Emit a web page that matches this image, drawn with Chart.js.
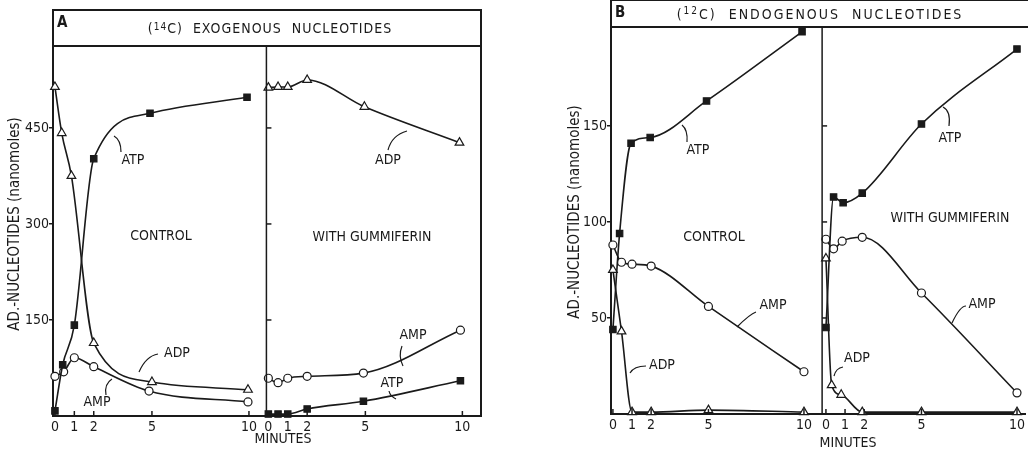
<!DOCTYPE html>
<html lang="en">
<head>
<meta charset="UTF-8">
<title>AD-nucleotides, control vs gummiferin</title>
<script src="https://cdn.jsdelivr.net/npm/chart.js"></script>
<style>
  body { margin: 0; background: #fff; }
  .wrap { position: relative; width: 1028px; height: 455px; overflow: hidden; background: #fff; }
  canvas { position: absolute; top: 0; }
  #panelA { left: 0; }
  #panelB { left: 514px; }
</style>
</head>
<body>
<div class="wrap">
  <canvas id="panelA" width="514" height="455"></canvas>
  <canvas id="panelB" width="514" height="455"></canvas>
</div>
<script>
const INK = '#1a1a1a';
const FONT = '"DejaVu Sans Condensed", "DejaVu Sans", sans-serif';

// axis ticks
const minuteTicks = [0, 1, 2, 5, 10];
const yTicksA = [150, 300, 450];
const yTicksB = [50, 100, 150];
// the gummiferin half sits on the same x axis, shifted by this many "minutes"
const gumOffsetA = 11;
const gumOffsetB = 11.15;

// Panel A: (14C) exogenous nucleotides, control
const aCtrlAtpMin = [0, 0.4, 1.0, 2.0, 4.9, 9.9];
const aCtrlAtp    = [8, 80, 142, 402, 473, 498];
const aCtrlAdpMin = [0, 0.35, 0.85, 2.0, 5.0, 9.95];
const aCtrlAdp    = [514, 442, 375, 114, 53, 41];
const aCtrlAmpMin = [0, 0.45, 1.0, 2.0, 4.85, 9.95];
const aCtrlAmp    = [62, 69, 91, 77, 39, 22];
// Panel A, with gummiferin
const aGumAdpMin = [0, 0.5, 1, 2, 4.95, 9.85];
const aGumAdp    = [513, 514, 514, 525, 483, 427];
const aGumAmpMin = [0, 0.5, 1, 2, 4.9, 9.9];
const aGumAmp    = [59, 52, 59, 62, 67, 134];
const aGumAtpMin = [0, 0.5, 1, 2, 4.9, 9.9];
const aGumAtp    = [3, 3, 3, 11, 23, 55];

// Panel B: (12C) endogenous nucleotides, control
const bCtrlAtpMin = [0, 0.35, 0.95, 1.95, 4.9, 9.9];
const bCtrlAtp    = [44, 94, 141, 144, 163, 199];
const bCtrlAdpMin = [0, 0.45, 1, 2, 5, 10];
const bCtrlAdp    = [75, 43, 1, 1, 2, 1];
const bCtrlAmpMin = [0, 0.45, 1, 2, 5, 10];
const bCtrlAmp    = [88, 79, 78, 77, 56, 22];
// Panel B, with gummiferin
const bGumAtpMin = [0, 0.4, 0.9, 1.9, 5, 10];
const bGumAtp    = [45, 113, 110, 115, 151, 190];
const bGumAmpMin = [0, 0.4, 0.85, 1.9, 5, 10];
const bGumAmp    = [91, 86, 90, 92, 63, 11];
const bGumAdpMin = [0, 0.3, 0.8, 1.9, 5, 10];
const bGumAdp    = [81, 15, 10, 1, 1, 1];

const markers = {
  ATP: { pointStyle: 'rect', pointRadius: 4.5, pointBackgroundColor: INK },
  ADP: { pointStyle: 'triangle', pointRadius: 5, pointBackgroundColor: '#fff' },
  AMP: { pointStyle: 'circle', pointRadius: 4, pointBackgroundColor: '#fff' }
};

function series(kind, mins, vals, off) {
  return Object.assign({
    label: kind,
    data: mins.map((m, i) => ({ x: m + off, y: vals[i] })),
    showLine: true,
    borderColor: INK,
    borderWidth: 1.6,
    pointBorderColor: INK,
    pointBorderWidth: 1.2,
    cubicInterpolationMode: 'monotone',
    clip: false
  }, markers[kind]);
}

// header box, divider, inner ticks, text labels and the little leader strokes
function decor(o) {
  return {
    id: 'decor',
    afterDraw(chart) {
      const ctx = chart.ctx, ca = chart.chartArea;
      const xs = chart.scales.x, ys = chart.scales.y;
      ctx.save();
      ctx.strokeStyle = INK;
      ctx.fillStyle = INK;
      ctx.lineWidth = 2;
      const right = o.closed ? ca.right : ca.right + 4;
      ctx.strokeRect(ca.left, o.headerTop, right - ca.left, ca.top - o.headerTop);
      if (o.closed) {
        ctx.beginPath(); ctx.moveTo(ca.right, ca.top); ctx.lineTo(ca.right, ca.bottom); ctx.stroke();
      }
      // divider between control and gummiferin
      const dx = xs.getPixelForValue(o.divider);
      ctx.lineWidth = 1.5;
      ctx.beginPath(); ctx.moveTo(dx, ca.top); ctx.lineTo(dx, ca.bottom); ctx.stroke();
      o.yTicks.forEach(v => {
        const y = ys.getPixelForValue(v);
        ctx.beginPath(); ctx.moveTo(dx, y); ctx.lineTo(dx + 5, y); ctx.stroke();
      });
      [0, o.offset].forEach(off => minuteTicks.forEach(m => {
        const x = xs.getPixelForValue(m + off);
        ctx.beginPath(); ctx.moveTo(x, ca.bottom); ctx.lineTo(x, ca.bottom - 5); ctx.stroke();
      }));

      // panel letter and title
      ctx.textBaseline = 'middle';
      ctx.textAlign = 'left';
      ctx.font = `bold 15px ${FONT}`;
      ctx.fillText(o.letter, ca.left + 4, o.letterY);
      ctx.letterSpacing = o.spacing;
      const big = `14px ${FONT}`, small = `10px ${FONT}`;
      ctx.font = big; const w1 = ctx.measureText('(').width, w3 = ctx.measureText(o.title[2]).width;
      ctx.font = small; const w2 = ctx.measureText(o.title[1]).width;
      let x = o.titleX - (w1 + w2 + w3) / 2;
      ctx.font = big; ctx.fillText('(', x, o.titleY); x += w1;
      ctx.font = small; ctx.fillText(o.title[1], x, o.titleY - o.supRaise); x += w2;
      ctx.font = big; ctx.fillText(o.title[2], x, o.titleY);
      ctx.letterSpacing = '0px';

      // y axis title
      ctx.save();
      ctx.translate(o.yTitle[0], o.yTitle[1]);
      ctx.rotate(-Math.PI / 2);
      ctx.textAlign = 'center';
      ctx.font = `15px ${FONT}`;
      ctx.fillText('AD.-NUCLEOTIDES (nanomoles)', 0, 0);
      ctx.restore();

      ctx.textAlign = 'center';
      ctx.font = `14px ${FONT}`;
      o.labels.forEach(([t, lx, ly]) => ctx.fillText(t, lx, ly));
      ctx.lineWidth = 1.2;
      o.leaders.forEach(([x1, y1, cx, cy, x2, y2]) => {
        ctx.beginPath(); ctx.moveTo(x1, y1); ctx.quadraticCurveTo(cx, cy, x2, y2); ctx.stroke();
      });
      ctx.restore();
    }
  };
}

function makeChart(id, datasets, p) {
  return new Chart(document.getElementById(id), {
    type: 'scatter',
    data: { datasets },
    options: {
      responsive: false,
      animation: false,
      layout: { padding: { left: 0, top: p.top, right: p.right, bottom: 0 }, autoPadding: false },
      plugins: { legend: { display: false }, tooltip: { enabled: false } },
      scales: {
        x: {
          type: 'linear', min: -0.1, max: p.xMax,
          afterFit: s => { s.height = p.xHeight; },
          afterBuildTicks: s => {
            s.ticks = minuteTicks.concat(minuteTicks.map(m => m + p.offset)).map(v => ({ value: v }));
          },
          grid: { drawOnChartArea: false, drawTicks: false },
          border: { display: true, color: INK, width: 2 },
          ticks: {
            autoSkip: false, maxRotation: 0, padding: 3, color: INK,
            font: { family: FONT, size: 14 },
            callback: v => v > 10.5 ? Math.round(v - p.offset) : v
          }
        },
        y: {
          min: 0, max: p.yMax,
          afterFit: s => { s.width = p.yWidth; },
          afterBuildTicks: s => { s.ticks = p.yTicks.map(v => ({ value: v })); },
          grid: { drawOnChartArea: false, drawTicks: true, tickLength: 4, color: INK, lineWidth: 1.5 },
          border: { display: true, color: INK, width: 2 },
          ticks: { padding: 0, color: INK, font: { family: FONT, size: 14 } }
        }
      }
    },
    plugins: [decor(p.decor)]
  });
}

makeChart('panelA', [
  series('ATP', aCtrlAtpMin, aCtrlAtp, 0),
  series('ADP', aCtrlAdpMin, aCtrlAdp, 0),
  series('AMP', aCtrlAmpMin, aCtrlAmp, 0),
  series('ADP', aGumAdpMin, aGumAdp, gumOffsetA),
  series('AMP', aGumAmpMin, aGumAmp, gumOffsetA),
  series('ATP', aGumAtpMin, aGumAtp, gumOffsetA)
], {
  top: 46, right: 33, xHeight: 39, yWidth: 53, xMax: 21.96, yMax: 578,
  offset: gumOffsetA, yTicks: yTicksA,
  decor: {
    closed: true, headerTop: 10, divider: 10.9, offset: gumOffsetA, yTicks: yTicksA,
    letter: 'A', letterY: 23, title: ['(', '14', 'C)  EXOGENOUS  NUCLEOTIDES'],
    titleX: 270, titleY: 29, supRaise: 2, spacing: '1px', yTitle: [15, 224],
    labels: [
      ['CONTROL', 161, 236], ['WITH GUMMIFERIN', 372, 237], ['MINUTES', 283, 439],
      ['ATP', 133, 160], ['ADP', 177, 353], ['AMP', 97, 402],
      ['ADP', 388, 160], ['AMP', 413, 335], ['ATP', 392, 383]
    ],
    leaders: [
      [114, 136, 121, 140, 121, 152],
      [139, 372, 146, 356, 158, 354],
      [112, 379, 104, 384, 106, 395],
      [407, 131, 392, 135, 388, 150],
      [403, 366, 398, 356, 402, 346],
      [396, 399, 390, 396, 389, 391]
    ]
  }
});

makeChart('panelB', [
  series('ATP', bCtrlAtpMin, bCtrlAtp, 0),
  series('ADP', bCtrlAdpMin, bCtrlAdp, 0),
  series('AMP', bCtrlAmpMin, bCtrlAmp, 0),
  series('ATP', bGumAtpMin, bGumAtp, gumOffsetB),
  series('AMP', bGumAmpMin, bGumAmp, gumOffsetB),
  series('ADP', bGumAdpMin, bGumAdp, gumOffsetB)
], {
  top: 27, right: 0, xHeight: 41, yWidth: 97, xMax: 21.62, yMax: 201.5,
  offset: gumOffsetB, yTicks: yTicksB,
  decor: {
    closed: false, headerTop: 0, divider: 10.95, offset: gumOffsetB, yTicks: yTicksB,
    letter: 'B', letterY: 13, title: ['(', '12', 'C)  ENDOGENOUS  NUCLEOTIDES'],
    titleX: 306, titleY: 15, supRaise: 4, spacing: '2px', yTitle: [61, 212],
    labels: [
      ['CONTROL', 200, 237], ['WITH GUMMIFERIN', 436, 218], ['MINUTES', 334, 443],
      ['ATP', 184, 150], ['AMP', 259, 305], ['ADP', 148, 365],
      ['ATP', 436, 138], ['AMP', 468, 304], ['ADP', 343, 358]
    ],
    leaders: [
      [168, 125, 174, 130, 173, 142],
      [223, 327, 236, 314, 242, 312],
      [116, 373, 120, 366, 132, 366],
      [429, 107, 437, 111, 435, 126],
      [438, 323, 446, 306, 452, 306],
      [320, 376, 322, 368, 329, 367]
    ]
  }
});
</script>
</body>
</html>
